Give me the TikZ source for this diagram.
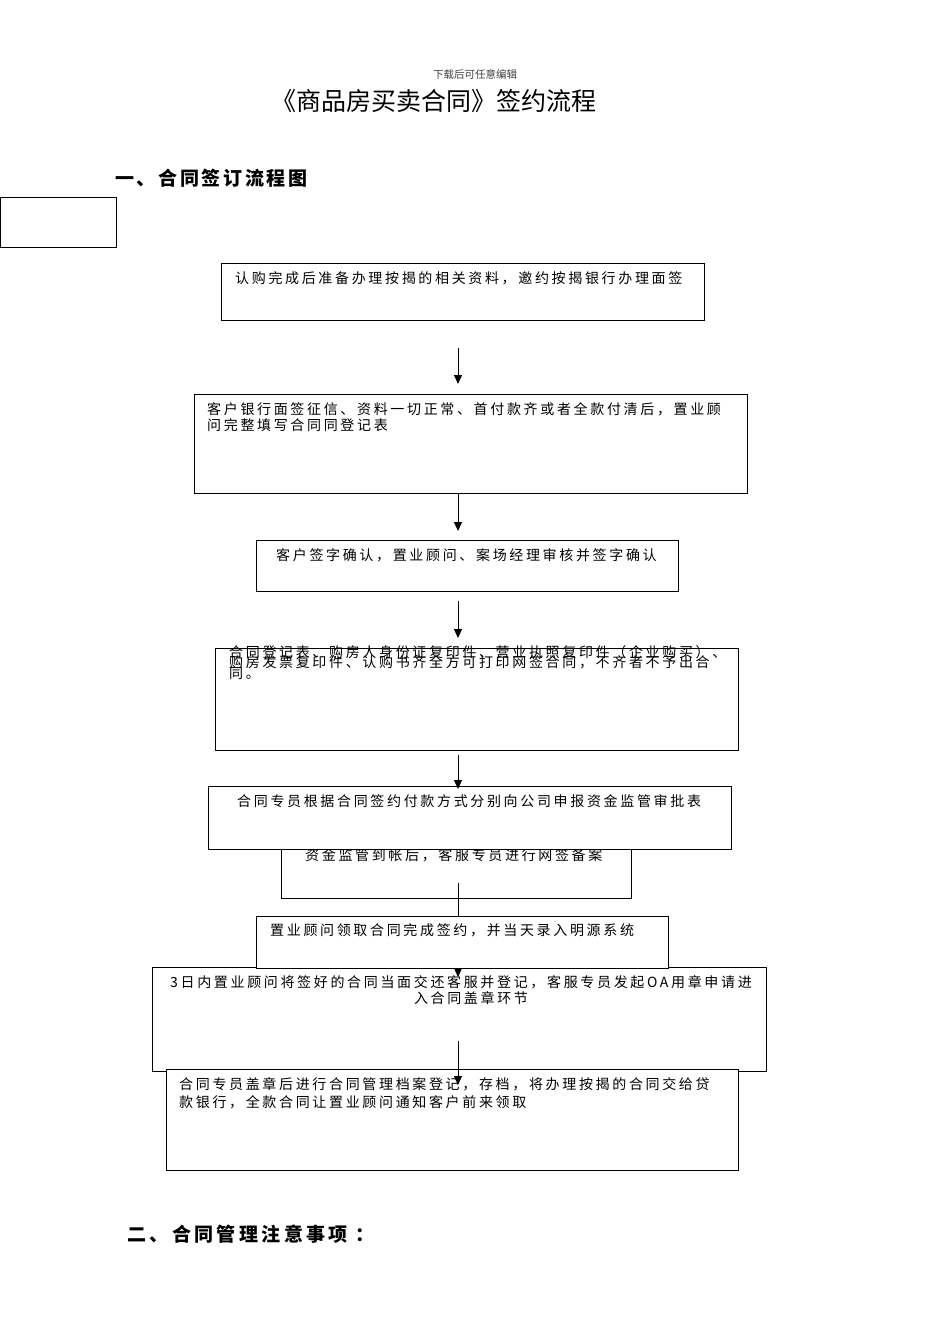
\documentclass[tikz,border=0pt]{standalone}
\usepackage{fontspec}
\setmainfont{Noto Sans CJK SC}
\newfontfamily\cjksp[LetterSpace=19]{Noto Sans CJK SC}
\newfontfamily\cjkhd[LetterSpace=14]{Noto Sans CJK SC}
\newfontfamily\cjkhdb[LetterSpace=18]{Noto Sans CJK SC}
\newfontfamily\cjktitle{Noto Sans CJK SC}
\newcommand{\mytightlines}{\lineskiplimit=-30pt\relax\lineskip=0pt\relax}
\usetikzlibrary{arrows.meta}
\tikzset{
  box/.style={draw, line width=1.2pt, fill=white, inner sep=0pt, anchor=north west},
  txt/.style={inner sep=0pt, anchor=base west, font=\cjksp\fontsize{14}{16}\selectfont},
  arr/.style={line width=1pt, -{Triangle[length=9pt,width=8pt]}},
  head/.style={inner sep=0pt, anchor=west, font=\cjkhd\bfseries\fontsize{19}{22}\selectfont}
}
\begin{document}
\begin{tikzpicture}[x=1pt,y=-1pt]
\useasboundingbox[fill=white] (0,0) rectangle (950,1344);
% header and titles
\node[inner sep=0pt, text=black!75, font=\fontsize{10.5}{12}\selectfont] (hdr) at (475,74) {下载后可任意编辑};
\node[inner sep=0pt, font=\cjktitle\fontsize{25}{28}\selectfont] (title) at (434,101) {《商品房买卖合同》签约流程};
\node[head] (h1) at (115,178) {一、合同签订流程图};
\node[box, minimum width=116pt, minimum height=50pt] (sq) at (0,197) {};

% step 1
\node[box, minimum width=483pt, minimum height=57pt] (b1) at (221,263) {};
\node[txt] (t1) at (235,283) {认购完成后准备办理按揭的相关资料，邀约按揭银行办理面签};
% step 2
\node[box, minimum width=553pt, minimum height=99pt] (b2) at (194,394) {};
\node[txt, anchor=north west, align=left, font=\cjksp\fontsize{14}{16}\selectfont] (t2) at (207,402) {客户银行面签征信、资料一切正常、首付款齐或者全款付清后，置业顾\\问完整填写合同同登记表};
% step 3
\node[box, minimum width=422pt, minimum height=51pt] (b3) at (256,540) {};
\node[txt] (t3) at (276,560) {客户签字确认，置业顾问、案场经理审核并签字确认};
% step 4
\node[box, minimum width=523pt, minimum height=102pt] (b4) at (215,648) {};
\node[txt, anchor=north west, align=left, font=\cjksp\fontsize{14}{10.5}\selectfont\mytightlines] (t4) at (229,645) {合同登记表、购房人身份证复印件、营业执照复印件（企业购买）、\\购房发票复印件、认购书齐全方可打印网签合同，不齐者不予出合\\同。};

\coordinate (a1s) at (458,348);
\coordinate (a1e) at (458,384);
\coordinate (a2e) at (458,531);
\coordinate (a3s) at (458,601);
\coordinate (a3e) at (458,638);
\draw[arr] (a1s) -- (a1e);
\draw[arr] (b2.south -| a1s) -- (a2e);
\draw[arr] (a3s) -- (a3e);

% step 6 (behind step 5)
\node[box, minimum width=350pt, minimum height=78pt] (b6) at (281,820) {};
\node[txt] (t6) at (305,860) {资金监管到帐后，客服专员进行网签备案};
% step 5
\node[box, minimum width=523pt, minimum height=63pt] (b5) at (208,786) {};
\node[txt] (t5) at (237,806) {合同专员根据合同签约付款方式分别向公司申报资金监管审批表};
\coordinate (a4s) at (458,755);
\coordinate (a4e) at (458,789);
\draw[arr] (a4s) -- (a4e);

\coordinate (a5s) at (458,883);
\coordinate (a5e) at (458,930);
\draw[arr] (a5s) -- (a5e);

% step 8 then step 7 on top
\node[box, minimum width=614pt, minimum height=104pt] (b8) at (152,967) {};
\node[txt, anchor=north, align=center, font=\cjksp\fontsize{14}{16}\selectfont] (t8) at (461,975) {3日内置业顾问将签好的合同当面交还客服并登记，客服专员发起OA用章申请进\\\hspace*{20pt}入合同盖章环节};
\node[box, minimum width=412pt, minimum height=52pt] (b7) at (256,916) {};
\node[txt] (t7) at (270,935) {置业顾问领取合同完成签约，并当天录入明源系统};
\coordinate (a6e) at (458,977);
\draw[arr] (b7.south -| a6e) -- (a6e);

% step 9
\node[box, minimum width=572pt, minimum height=101pt] (b9) at (166,1069) {};
\node[txt, anchor=north west, align=left, font=\cjksp\fontsize{14}{18}\selectfont] (t9) at (179,1077) {合同专员盖章后进行合同管理档案登记，存档，将办理按揭的合同交给贷\\款银行，全款合同让置业顾问通知客户前来领取};
\coordinate (a7s) at (458,1041);
\coordinate (a7e) at (458,1085);
\draw[arr] (a7s) -- (a7e);

\node[head, font=\cjkhdb\bfseries\fontsize{19}{22}\selectfont] (h2) at (127,1234) {二、合同管理注意事项 ：};
\end{tikzpicture}
\end{document}
